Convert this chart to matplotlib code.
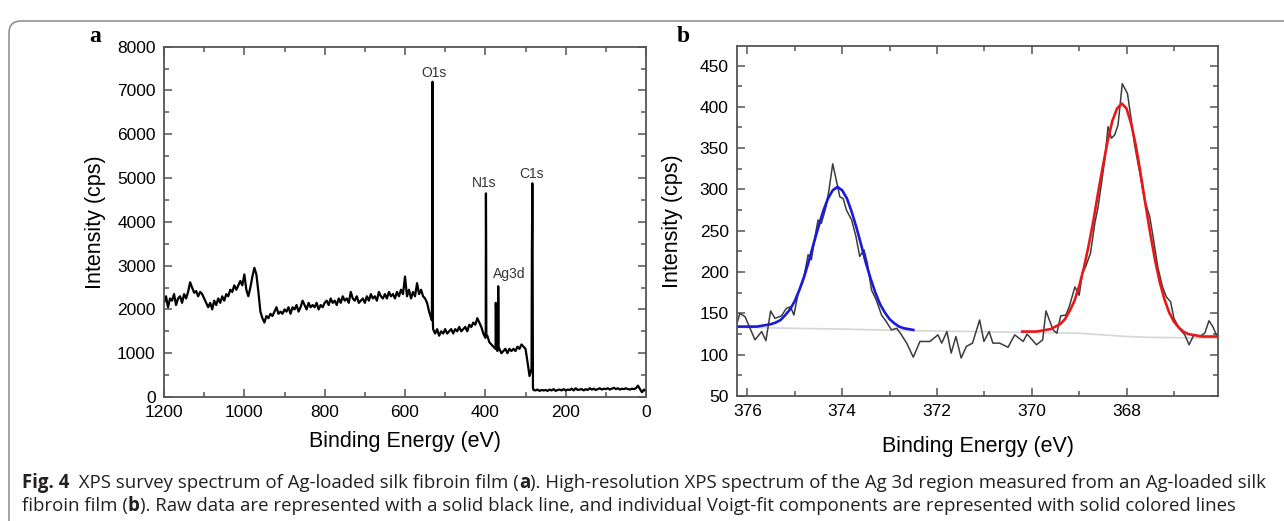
import numpy as np
import matplotlib
matplotlib.use("Agg")
import matplotlib.pyplot as plt
from matplotlib.patches import FancyBboxPatch
from matplotlib.transforms import IdentityTransform
from matplotlib.ticker import MultipleLocator

plt.rcParams['font.family'] = ['Liberation Sans', 'DejaVu Sans']

# ---- (a) survey spectrum, 5 eV background grid from 1200 eV down to 0 eV
survey_e = np.arange(1200, -1, -5)
survey_i = [
    2150, 2300, 2050, 2250, 2200, 2350, 2100, 2250, 2300, 2150,   # 1200
    2350, 2250, 2400, 2620, 2500, 2380, 2420, 2300, 2400, 2350,   # 1150
    2250, 2150, 2050, 2150, 2000, 2200, 2100, 2250, 2150, 2300,   # 1100
    2200, 2350, 2300, 2450, 2400, 2550, 2450, 2550, 2650, 2550,   # 1050
    2800, 2450, 2300, 2500, 2750, 2950, 2800, 2400, 1950, 1800,   # 1000
    1700, 1850, 1800, 1900, 1850, 1950, 2050, 1900, 1950, 1900,   # 950
    2000, 1950, 2050, 1900, 2050, 2000, 2100, 1950, 2050, 2200,   # 900
    2100, 2000, 2150, 2050, 2100, 2050, 2150, 2000, 2100, 2050,   # 850
    2150, 2200, 2100, 2250, 2150, 2200, 2100, 2250, 2150, 2300,   # 800
    2200, 2250, 2150, 2400, 2250, 2200, 2300, 2150, 2200, 2250,   # 750
    2150, 2300, 2200, 2350, 2250, 2300, 2200, 2400, 2300, 2250,   # 700
    2350, 2250, 2400, 2300, 2350, 2250, 2400, 2300, 2450, 2350,   # 650
    2750, 2300, 2450, 2250, 2400, 2300, 2600, 2350, 2450, 2300,   # 600
    2250, 2150, 1950, 1800, 1550, 1450, 1550, 1400, 1500, 1450,   # 550
    1550, 1450, 1500, 1550, 1450, 1550, 1500, 1600, 1500, 1550,   # 500
    1600, 1500, 1650, 1600, 1700, 1650, 1800, 1700, 1600, 1450,   # 450
    1350, 1400, 1250, 1200, 1150, 1100, 1050, 1100, 1000, 1050,   # 400
    1100, 1000, 1100, 1050, 1100, 1050, 1150, 1100, 1200, 1150,   # 350
    1100, 800, 480, 650, 160, 150, 170, 140, 160, 150,            # 300
    160, 140, 170, 150, 180, 140, 160, 170, 150, 180,             # 250
    150, 170, 160, 190, 150, 200, 160, 170, 180, 150,             # 200
    180, 160, 200, 170, 190, 160, 180, 200, 170, 190,             # 150
    180, 200, 170, 190, 210, 180, 200, 170, 190, 180,             # 100
    200, 180, 170, 190, 180, 200, 260, 180, 110, 170,             # 50
    130,                                                          # 0
]
# photoelectron lines (energy, counts)
peak_e = [533, 531.5, 531, 530.5,
          399, 398.5, 398, 397.5,
          374.5, 374, 373.5, 373, 368.5, 368, 367.5, 367,
          284, 283, 282.5, 281.5]
peak_i = [1750, 7200, 6500, 1650,
          1500, 4650, 3600, 1400,
          1200, 2150, 2000, 1150, 1250, 2530, 2150, 1150,
          3400, 4880, 4050, 220]

peak_names = ["O1s", "N1s", "C1s", "Ag3d"]
name_e = [529, 402, 286, 340]
name_i = [7400, 4880, 5100, 2800]

# ---- (b) Ag 3d high resolution
raw_e = [376.22, 376.16, 376.05, 375.93, 375.84, 375.7, 375.61, 375.51, 375.42,
         375.28, 375.18, 375.09, 375.02, 374.93, 374.82, 374.72, 374.65, 374.58,
         374.51, 374.44, 374.35, 374.28, 374.2, 374.12, 374.05, 373.98, 373.91,
         373.8, 373.71, 373.63, 373.54, 373.47, 373.38, 373.28, 373.17, 373.07,
         372.96, 372.85, 372.75, 372.64, 372.5, 372.36, 372.15, 371.98, 371.9,
         371.79, 371.7, 371.6, 371.49, 371.38, 371.25, 371.1, 371.01, 370.9,
         370.82, 370.68, 370.5, 370.36, 370.18, 370.1, 369.9, 369.77, 369.7,
         369.55, 369.47, 369.39, 369.28, 369.21, 369.09, 369.0, 368.93, 368.86,
         368.76, 368.67, 368.6, 368.53, 368.46, 368.39, 368.32, 368.25, 368.18,
         368.09, 367.98, 367.91, 367.83, 367.72, 367.62, 367.51, 367.43, 367.34,
         367.24, 367.16, 367.07, 367.0, 366.88, 366.77, 366.68, 366.58, 366.46,
         366.35, 366.26, 366.18, 366.09]
raw_i = [138, 150, 146, 130, 118, 128, 117, 153, 144,
         147, 156, 158, 148, 174, 190, 221, 215, 241,
         263, 259, 277, 299, 331, 310, 291, 289, 275,
         263, 243, 219, 227, 211, 178, 166, 148, 140,
         130, 132, 124, 114, 97, 116, 116, 124, 114,
         128, 102, 122, 96, 110, 114, 142, 116, 128,
         114, 114, 109, 124, 116, 125, 112, 118, 153,
         130, 126, 147, 148, 158, 182, 172, 199, 207,
         223, 259, 279, 307, 336, 376, 362, 366, 378,
         428, 416, 388, 354, 320, 287, 267, 239, 206,
         182, 170, 164, 144, 131, 124, 112, 124, 122,
         126, 141, 134, 122]

blue_e = np.round(np.arange(376.2, 372.45, -0.1), 1)
blue_i = [134, 134, 134, 134, 134, 135, 136, 137, 139, 142,
          148, 155, 165, 179, 195, 214, 235, 255, 274, 289,
          299, 303, 299, 289, 273, 254, 233, 211, 192, 175,
          161, 151, 143, 138, 134, 132, 131, 130]

red_e = np.round(np.arange(370.2, 366.05, -0.1), 1)
red_i = [128, 128, 128, 128, 129, 130, 131, 134, 137, 143,
         153, 165, 183, 205, 232, 262, 296, 328, 358, 383,
         398, 404, 398, 379, 352, 318, 282, 247, 215, 188,
         167, 151, 140, 133, 128, 125, 124, 123, 122, 122,
         122, 122]

base_e = [376.2, 374.0, 372.5, 370.0, 369.0, 368.0, 367.5, 366.1]
base_i = [133, 131, 129, 127, 126, 122, 121, 120]

# merge survey background and peak lines
all_e = np.concatenate([survey_e, peak_e])
all_i = np.concatenate([survey_i, peak_i])
order = np.argsort(-all_e, kind="stable")

fig = plt.figure(figsize=(12.84, 5.21), dpi=100)
fig.patch.set_facecolor("white")

spine_col = "#555555"


def style_axes(ax):
    for s in ax.spines.values():
        s.set_color(spine_col)
        s.set_linewidth(1.3)
    ax.tick_params(which="both", direction="in", top=True, right=True,
                   color=spine_col, width=1.1, labelsize=12.5, pad=6)
    ax.tick_params(which="major", length=6)
    ax.tick_params(which="minor", length=3.5)


ax1 = fig.add_axes([164 / 1284, 1 - 397 / 521, 482 / 1284, 350.3 / 521])
ax1.plot(all_e[order], all_i[order], color="black", lw=1.6)
ax1.set_xlim(1200, 0)
ax1.set_ylim(0, 8000)
ax1.xaxis.set_major_locator(MultipleLocator(200))
ax1.xaxis.set_minor_locator(MultipleLocator(100))
ax1.yaxis.set_major_locator(MultipleLocator(1000))
ax1.yaxis.set_minor_locator(MultipleLocator(500))
style_axes(ax1)
ax1.set_xlabel("Binding Energy (eV)", fontsize=15.5, labelpad=8)
ax1.set_ylabel("Intensity (cps)", fontsize=15.5, labelpad=8)
for name, x, y in zip(peak_names, name_e, name_i):
    ax1.text(x, y, name, fontsize=10, color="#333333", ha="center", va="center")

ax2 = fig.add_axes([737 / 1284, 1 - 396 / 521, 481 / 1284, 350.3 / 521])
ax2.plot(base_e, base_i, color="#d6d6d6", lw=1.2)
ax2.plot(raw_e, raw_i, color="#3c3c3c", lw=1.1)
ax2.plot(blue_e, blue_i, color="#1a1adc", lw=1.9)
ax2.plot(red_e, red_i, color="#e81818", lw=1.9)
ax2.set_xlim(376.22, 366.07)
ax2.set_ylim(50, 474)
ax2.xaxis.set_major_locator(MultipleLocator(2))
ax2.xaxis.set_minor_locator(MultipleLocator(1))
ax2.yaxis.set_major_locator(MultipleLocator(50))
ax2.yaxis.set_minor_locator(MultipleLocator(25))
style_axes(ax2)
ax2.set_xlabel("Binding Energy (eV)", fontsize=15.5, labelpad=12)
ax2.set_ylabel("Intensity (cps)", fontsize=15.5, labelpad=12)

# panel letters
fig.text(95 / 1284, 1 - 37 / 521, "a", family="Liberation Serif", weight="bold",
         fontsize=17, ha="center", va="center")
fig.text(683 / 1284, 1 - 37 / 521, "b", family="Liberation Serif", weight="bold",
         fontsize=17, ha="center", va="center")

# caption, written as runs of normal / bold text placed one after another
cap_lines = [
    [("Fig. 4", "bold"),
     ("  XPS survey spectrum of Ag-loaded silk fibroin film (", "normal"),
     ("a", "bold"),
     ("). High-resolution XPS spectrum of the Ag 3d region measured from an Ag-loaded silk",
      "normal")],
    [("fibroin film (", "normal"), ("b", "bold"),
     ("). Raw data are represented with a solid black line, and individual Voigt-fit "
      "components are represented with solid colored lines", "normal")],
]
cap_y = [483, 506]
renderer = fig.canvas.get_renderer()
for runs, ypx in zip(cap_lines, cap_y):
    xpx = 22
    for txt, wt in runs:
        t = fig.text(xpx / 1284, 1 - ypx / 521, txt, family=["Open Sans", "Lato"],
                     weight=wt, fontsize=13.4, color="#231f20", va="center")
        xpx += t.get_window_extent(renderer).width

# rounded frame around the figure
frame = FancyBboxPatch((9, -30), 1320, 541 - 11, boxstyle="round,pad=0,rounding_size=12",
                       transform=IdentityTransform(), fill=False,
                       edgecolor="#8a8a8a", lw=1.1)
fig.add_artist(frame)

fig.savefig("out.png", dpi=100)
